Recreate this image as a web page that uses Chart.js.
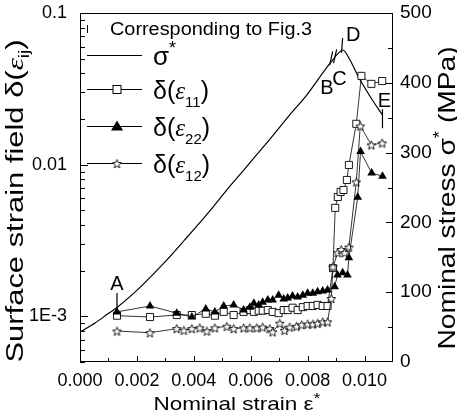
<!DOCTYPE html>
<html>
<head>
<meta charset="utf-8">
<script src="https://cdn.jsdelivr.net/npm/chart.js@4.4.1/dist/chart.umd.min.js"></script>
<style>
  html, body { margin: 0; padding: 0; background: #fff; }
</style>
</head>
<body>
<canvas id="chart" width="457" height="420"></canvas>
<script>
// --- data ---
const xTicks = [0, 0.002, 0.004, 0.006, 0.008, 0.010];
const leftTicks = [0.001, 0.01, 0.1];
const rightTicks = [0, 100, 200, 300, 400, 500];

// nominal stress curve (right axis, MPa)
const stressStrain = [0, 0.00053, 0.00098, 0.0013, 0.00211, 0.00298, 0.00368, 0.00449, 0.00519, 0.00561,
  0.00621, 0.00677, 0.00737, 0.00796, 0.00877, 0.00923, 0.00947, 0.00983, 0.01028, 0.01063];
const stressValues = [43, 56, 69, 78, 107, 143, 175, 213, 248, 268,
  297, 324, 354, 382, 427, 447, 434, 405, 375, 354];

// delta(eps11) squares
const e11Strain = [0.0013, 0.00246, 0.0034, 0.00393, 0.00442, 0.00474, 0.00505, 0.0054, 0.00575, 0.00597,
  0.00611, 0.00628, 0.00642, 0.0066, 0.00677, 0.00698, 0.00716, 0.0073, 0.00747, 0.00765,
  0.00783, 0.008, 0.00818, 0.00835, 0.00853, 0.0087,
  0.00889, 0.00897, 0.00906, 0.00916, 0.00926, 0.00938, 0.00945, 0.00971, 0.00989, 0.01024, 0.01062];
const e11Values = [1.01e-3, 9.9e-4, 1.02e-3, 1.02e-3, 1.04e-3, 1.01e-3, 1.07e-3, 1.02e-3, 1.07e-3, 1.10e-3,
  1.07e-3, 1.09e-3, 1.09e-3, 1.10e-3, 1.07e-3, 1.05e-3, 1.10e-3, 1.10e-3, 1.14e-3, 1.10e-3,
  1.15e-3, 1.17e-3, 1.17e-3, 1.19e-3, 1.17e-3, 1.17e-3,
  2.08e-3, 5.19e-3, 6.12e-3, 6.61e-3, 6.81e-3, 7.93e-3, 9.96e-3, 0.0186, 0.0385, 0.0341, 0.0356];

// delta(eps22) triangles
const e22Strain = [0.0013, 0.00246, 0.0034, 0.00393, 0.00442, 0.00474, 0.00505, 0.0054, 0.00575, 0.00597,
  0.00611, 0.00628, 0.00642, 0.0066, 0.00677, 0.00698, 0.00716, 0.0073, 0.00747, 0.00765,
  0.00783, 0.008, 0.00818, 0.00835, 0.00853, 0.0087,
  0.00895, 0.00905, 0.00923, 0.0094, 0.00945, 0.00976, 0.00986, 0.01025, 0.01063];
const e22Values = [1.07e-3, 1.17e-3, 1.05e-3, 9.9e-4, 1.12e-3, 1.07e-3, 1.17e-3, 1.19e-3, 1.10e-3, 1.15e-3,
  1.22e-3, 1.19e-3, 1.24e-3, 1.28e-3, 1.28e-3, 1.38e-3, 1.30e-3, 1.32e-3, 1.36e-3, 1.34e-3,
  1.38e-3, 1.42e-3, 1.42e-3, 1.45e-3, 1.47e-3, 1.49e-3,
  1.57e-3, 1.87e-3, 1.94e-3, 1.87e-3, 2.43e-3, 6.1e-3, 0.0122, 8.8e-3, 8.4e-3];

// delta(eps12) stars
const e12Strain = [0.0013, 0.00246, 0.0034, 0.00365, 0.00393, 0.00421, 0.00446, 0.00474, 0.00516, 0.0054,
  0.00575, 0.00597, 0.00621, 0.00642, 0.00667, 0.00677, 0.00702, 0.00719, 0.00737, 0.00761,
  0.00779, 0.008, 0.00818, 0.00835, 0.00853, 0.0087,
  0.00883, 0.00889, 0.00906, 0.00918, 0.0093, 0.00945, 0.00971, 0.00985, 0.01024, 0.01062];
const e12Values = [8.0e-4, 7.8e-4, 8.3e-4, 8.1e-4, 8.3e-4, 8.4e-4, 8.0e-4, 8.4e-4, 8.6e-4, 8.3e-4,
  8.4e-4, 8.4e-4, 8.4e-4, 8.5e-4, 8.3e-4, 7.9e-4, 9.0e-4, 8.1e-4, 8.5e-4, 8.6e-4,
  8.8e-4, 8.9e-4, 8.9e-4, 9.0e-4, 9.2e-4, 9.2e-4,
  1.31e-3, 2.12e-3, 2.63e-3, 2.76e-3, 2.63e-3, 2.86e-3, 7.7e-3, 0.018, 0.0135, 0.0139];

// A..E markers on the stress curve (strain, stress in MPa)
const marks = [
  {label: 'A', at: [0.0013, 112], lines: [[0.0013, 99, 0.0013, 74]]},
  {label: 'B', at: [0.00868, 393], lines: [[0.00877, 425, 0.00888, 445], [0.00891, 428, 0.00902, 448]]},
  {label: 'C', at: [0.00912, 406], lines: [[0.00919, 443, 0.00923, 464]]},
  {label: 'D', at: [0.0096, 469], lines: []},
  {label: 'E', at: [0.0107, 375], lines: [[0.01063, 362, 0.01063, 335]]}
];

const SANS = '"Liberation Sans", Arial, sans-serif';
const SERIF = '"Liberation Serif", "DejaVu Serif", serif';

function toPoints(xs, ys) {
  return xs.map((x, i) => ({x: x, y: ys[i]}));
}

function makeStar(R) {
  const c = document.createElement('canvas');
  const s = Math.ceil(R * 2 + 3);
  c.width = s; c.height = s;
  const g = c.getContext('2d');
  g.beginPath();
  for (let i = 0; i < 10; i++) {
    const a = -Math.PI / 2 + i * Math.PI / 5;
    const rr = i % 2 ? R * 0.45 : R;
    g.lineTo(s / 2 + rr * Math.cos(a), s / 2 + 0.6 + rr * Math.sin(a));
  }
  g.closePath();
  g.fillStyle = '#fff';
  g.fill();
  g.strokeStyle = '#000';
  g.lineWidth = 0.9;
  g.stroke();
  return c;
}
const starImg = makeStar(4.6);

// draw a run of text pieces, stretched to a target length
function drawPieces(ctx, pieces, cx, cy, target, angle) {
  ctx.save();
  ctx.translate(cx, cy);
  ctx.rotate(angle);
  let total = 0;
  pieces.forEach(p => { ctx.font = p.font; p.w = ctx.measureText(p.t).width; total += p.w; });
  const sx = target ? target / total : 1;
  ctx.scale(sx, 1);
  let x = -total / 2;
  ctx.fillStyle = '#000';
  ctx.textBaseline = 'alphabetic';
  ctx.textAlign = 'left';
  pieces.forEach(p => {
    ctx.font = p.font;
    ctx.fillText(p.t, x, p.dy || 0);
    x += p.w;
  });
  ctx.restore();
}

function drawLeftPieces(ctx, pieces, x, y) {
  ctx.save();
  ctx.fillStyle = '#000';
  ctx.textBaseline = 'alphabetic';
  ctx.textAlign = 'left';
  pieces.forEach(p => {
    ctx.font = p.font;
    ctx.fillText(p.t, x, y + (p.dy || 0));
    x += ctx.measureText(p.t).width;
  });
  ctx.restore();
}

// axis boxes are fixed so the plot frame sits where it does in the figure
function fixBox(size, key) {
  return s => {
    s[key] = size;
    s.paddingTop = 0; s.paddingBottom = 0; s.paddingLeft = 0; s.paddingRight = 0;
  };
}

const decor = {
  id: 'decor',
  afterDraw(chart) {
    const {ctx, chartArea: a, scales} = chart;
    const sx = scales.x, sl = scales.y, sr = scales.y2;
    ctx.save();
    ctx.strokeStyle = '#000';
    ctx.lineWidth = 1;
    ctx.strokeRect(a.left + 0.5, a.top + 0.5, a.right - a.left - 1, a.bottom - a.top - 1);

    ctx.beginPath();
    // bottom ticks
    for (let v = 0.001; v < 0.0109; v += 0.001) {
      const px = Math.round(sx.getPixelForValue(v)) + 0.5;
      const major = Math.round(v * 1000) % 2 === 0;
      ctx.moveTo(px, a.bottom);
      ctx.lineTo(px, a.bottom - (major ? 6 : 4));
    }
    // left ticks (log)
    [1e-4, 1e-3, 1e-2].forEach(d => {
      for (let k = 1; k <= 9; k++) {
        const v = k * d;
        if (v < sl.min - 1e-12 || v > sl.max + 1e-12) continue;
        const py = Math.round(sl.getPixelForValue(v)) + 0.5;
        const len = k === 1 ? 8 : 5;
        ctx.moveTo(a.left, py);
        ctx.lineTo(a.left + len, py);
      }
    });
    // right ticks
    for (let v = 50; v < 500; v += 50) {
      const py = Math.round(sr.getPixelForValue(v)) + 0.5;
      ctx.moveTo(a.right, py);
      ctx.lineTo(a.right - (v % 100 === 0 ? 7 : 5), py);
    }
    ctx.stroke();

    // A..E marks
    ctx.lineWidth = 1.2;
    ctx.beginPath();
    marks.forEach(m => {
      m.lines.forEach(l => {
        ctx.moveTo(sx.getPixelForValue(l[0]), sr.getPixelForValue(l[1]));
        ctx.lineTo(sx.getPixelForValue(l[2]), sr.getPixelForValue(l[3]));
      });
    });
    ctx.stroke();
    ctx.fillStyle = '#000';
    ctx.font = '20px ' + SANS;
    ctx.textAlign = 'center';
    ctx.textBaseline = 'middle';
    marks.forEach(m => {
      ctx.fillText(m.label, sx.getPixelForValue(m.at[0]), sr.getPixelForValue(m.at[1]) + 1);
    });

    // legend
    ctx.lineWidth = 1;
    ctx.beginPath();
    ctx.moveTo(87.5, 25); ctx.lineTo(87.5, 33);
    ctx.stroke();
    ctx.font = '18px ' + SANS;
    ctx.textAlign = 'left';
    ctx.textBaseline = 'alphabetic';
    ctx.save();
    ctx.translate(110, 35);
    const w = ctx.measureText('Corresponding to Fig.3').width;
    ctx.scale(202 / w, 1);
    ctx.fillText('Corresponding to Fig.3', 0, 0);
    ctx.restore();

    const rows = [
      {y: 55, kind: 'line', text: [{t: '\u03c3', font: '26px ' + SANS}, {t: '*', font: '18px ' + SANS, dy: -11}]},
      {y: 89, kind: 'rect', sub: '11'},
      {y: 126, kind: 'tri', sub: '22'},
      {y: 163, kind: 'star', sub: '12'}
    ];
    rows.forEach(r => {
      ctx.beginPath();
      ctx.moveTo(87, r.y + 0.5);
      ctx.lineTo(142, r.y + 0.5);
      ctx.stroke();
      const mx = 117, my = r.y + 0.5;
      if (r.kind === 'rect') {
        ctx.fillStyle = '#fff';
        ctx.fillRect(mx - 4, my - 4, 8, 8);
        ctx.strokeRect(mx - 4, my - 4, 8, 8);
      } else if (r.kind === 'tri') {
        ctx.fillStyle = '#000';
        ctx.beginPath();
        ctx.moveTo(mx, my - 6);
        ctx.lineTo(mx + 6, my + 4);
        ctx.lineTo(mx - 6, my + 4);
        ctx.closePath();
        ctx.fill();
      } else if (r.kind === 'star') {
        ctx.drawImage(starImg, mx - starImg.width / 2, my - starImg.height / 2);
      }
      const pieces = r.text || [
        {t: '\u03b4(', font: '25px ' + SANS},
        {t: '\u03b5', font: 'italic 25px ' + SERIF},
        {t: r.sub, font: '15px ' + SANS, dy: 8},
        {t: ')', font: '25px ' + SANS}
      ];
      drawLeftPieces(ctx, pieces, 153, r.y + 10);
    });

    // axis titles
    drawPieces(ctx, [
      {t: 'Surface strain field \u03b4(', font: '23px ' + SANS},
      {t: '\u03b5', font: 'italic 23px ' + SERIF},
      {t: 'ij', font: '14px ' + SANS, dy: 6},
      {t: ')', font: '23px ' + SANS}
    ], 23, 201, 323, -Math.PI / 2);
    drawPieces(ctx, [
      {t: 'Nominal stress \u03c3', font: '24px ' + SANS},
      {t: '*', font: '16px ' + SANS, dy: -10},
      {t: ' (MPa)', font: '24px ' + SANS}
    ], 455, 198, 303, -Math.PI / 2);
    drawPieces(ctx, [
      {t: 'Nominal strain \u03b5', font: '19px ' + SANS},
      {t: '*', font: '15px ' + SANS, dy: -7}
    ], 237, 410, 167, 0);
    ctx.restore();
  }
};

new Chart(document.getElementById('chart'), {
  type: 'scatter',
  data: {
    datasets: [
      {
        label: 'sigma',
        data: toPoints(stressStrain, stressValues),
        yAxisID: 'y2',
        showLine: true,
        borderColor: '#000',
        borderWidth: 1.2,
        pointRadius: 0,
        tension: 0.3,
        order: 4
      },
      {
        label: 'e11',
        data: toPoints(e11Strain, e11Values),
        yAxisID: 'y',
        showLine: true,
        borderColor: '#000',
        borderWidth: 0.8,
        pointStyle: 'rect',
        pointRadius: 5,
        pointBorderWidth: 0.9,
        pointBackgroundColor: '#fff',
        pointBorderColor: '#000',
        order: 3
      },
      {
        label: 'e22',
        data: toPoints(e22Strain, e22Values),
        yAxisID: 'y',
        showLine: true,
        borderColor: '#000',
        borderWidth: 0.8,
        pointStyle: 'triangle',
        pointRadius: 5,
        pointBorderWidth: 0,
        pointBackgroundColor: '#000',
        pointBorderColor: '#000',
        order: 1
      },
      {
        label: 'e12',
        data: toPoints(e12Strain, e12Values),
        yAxisID: 'y',
        showLine: true,
        borderColor: '#000',
        borderWidth: 0.8,
        pointStyle: starImg,
        order: 2
      }
    ]
  },
  options: {
    responsive: false,
    animation: false,
    devicePixelRatio: 1,
    layout: {padding: {top: 13, left: 0, right: 0, bottom: 0}},
    plugins: {legend: {display: false}, tooltip: {enabled: false}},
    scales: {
      x: {
        type: 'linear',
        min: 0,
        max: 0.011,
        grid: {display: false, drawTicks: false},
        border: {display: false},
        afterBuildTicks: s => { s.ticks = xTicks.map(v => ({value: v})); },
        afterFit: fixBox(58, 'height'),
        ticks: {
          color: '#000',
          padding: 8,
          font: {family: SANS, size: 18},
          callback: v => v.toFixed(3)
        }
      },
      y: {
        type: 'logarithmic',
        position: 'left',
        min: 5e-4,
        max: 0.1,
        grid: {display: false, drawTicks: false},
        border: {display: false},
        afterBuildTicks: s => { s.ticks = leftTicks.map(v => ({value: v})); },
        afterFit: fixBox(80, 'width'),
        ticks: {
          color: '#000',
          padding: 13,
          font: {family: SANS, size: 18},
          callback: v => (v < 0.005 ? '1E-3' : String(v))
        }
      },
      y2: {
        type: 'linear',
        position: 'right',
        min: 0,
        max: 500,
        grid: {display: false, drawTicks: false},
        border: {display: false},
        afterBuildTicks: s => { s.ticks = rightTicks.map(v => ({value: v})); },
        afterFit: fixBox(64, 'width'),
        ticks: {
          color: '#000',
          padding: 7,
          font: {family: SANS, size: 19},
          callback: v => String(v)
        }
      }
    }
  },
  plugins: [decor]
});
</script>
</body>
</html>
